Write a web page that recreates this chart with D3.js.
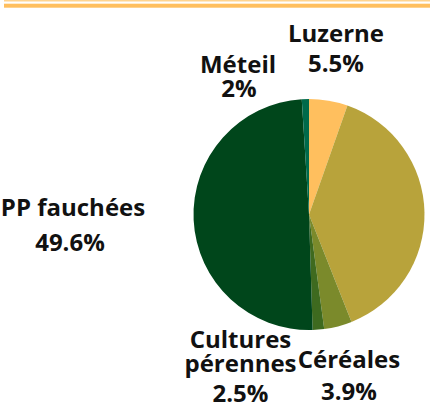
<!DOCTYPE html>
<html>
<head>
<meta charset="utf-8">
<script src="https://cdn.jsdelivr.net/npm/d3@7"></script>
<style>
  html, body { margin: 0; padding: 0; background: #ffffff; }
  svg { display: block; }
  text { font-family: "Open Sans", "Noto Sans", sans-serif; font-weight: 700; fill: #111111; }
</style>
</head>
<body>
<svg id="chart" width="430" height="405"></svg>
<script>
// Slice categories, in drawing order (clockwise from 12 o'clock)
const categories = ["Luzerne", "Prairies temporaires", "Céréales", "Cultures pérennes", "PP fauchées", "Méteil"];
// Slice sizes (percent of the circle)
const sliceValues = [5.4, 38.6, 3.9, 1.6, 49.5, 1.0];
// Label texts as printed in the picture
const labelNames = [["Luzerne"], [], ["Céréales"], ["Cultures", "pérennes"], ["PP fauchées"], ["Méteil"]];
const labelValues = ["5.5%", "", "3.9%", "2.5%", "49.6%", "2%"];
const colors = ["#FFBF5E", "#B8A33B", "#7B8A2B", "#3E6A1F", "#00461B", "#006A4A"];

const svg = d3.select("#chart");

// Header rules
svg.append("rect").attr("x", 4).attr("y", 0).attr("width", 426).attr("height", 1.5).attr("fill", "#FFD48F");
svg.append("rect").attr("x", 4).attr("y", 3.7).attr("width", 426).attr("height", 4).attr("fill", "#FFBF5E");

const cx = 309, cy = 214.5, r = 115.5;
const g = svg.append("g").attr("transform", `translate(${cx},${cy})`);

const pie = d3.pie().sort(null).value(d => d.v);
const data = categories.map((c, i) => ({ c, v: sliceValues[i], i }));
const arcs = pie(data);
const arc = d3.arc().innerRadius(0).outerRadius(r);

g.selectAll("path.slice").data(arcs).join("path")
  .attr("class", "slice")
  .attr("d", arc)
  .attr("fill", d => colors[d.data.i]);

// Label placement (line anchors, absolute): [x, baseline] per line
const labelLayout = [
  [[336, 42], [336, 72]],
  null,
  [[349, 368.3], [349, 400]],
  [[240.5, 348.3], [240.5, 372], [240.5, 401.7]],
  [[73, 216], [70, 251]],
  [[238, 72.5], [239, 97]]
];

labelLayout.forEach((lay, i) => {
  if (!lay) return;
  const lines = labelNames[i].concat([labelValues[i]]);
  const t = svg.append("text").attr("text-anchor", "middle").attr("font-size", 24);
  lines.forEach((s, k) => {
    t.append("tspan").attr("x", lay[k][0]).attr("y", lay[k][1]).text(s);
  });
});
</script>
</body>
</html>
